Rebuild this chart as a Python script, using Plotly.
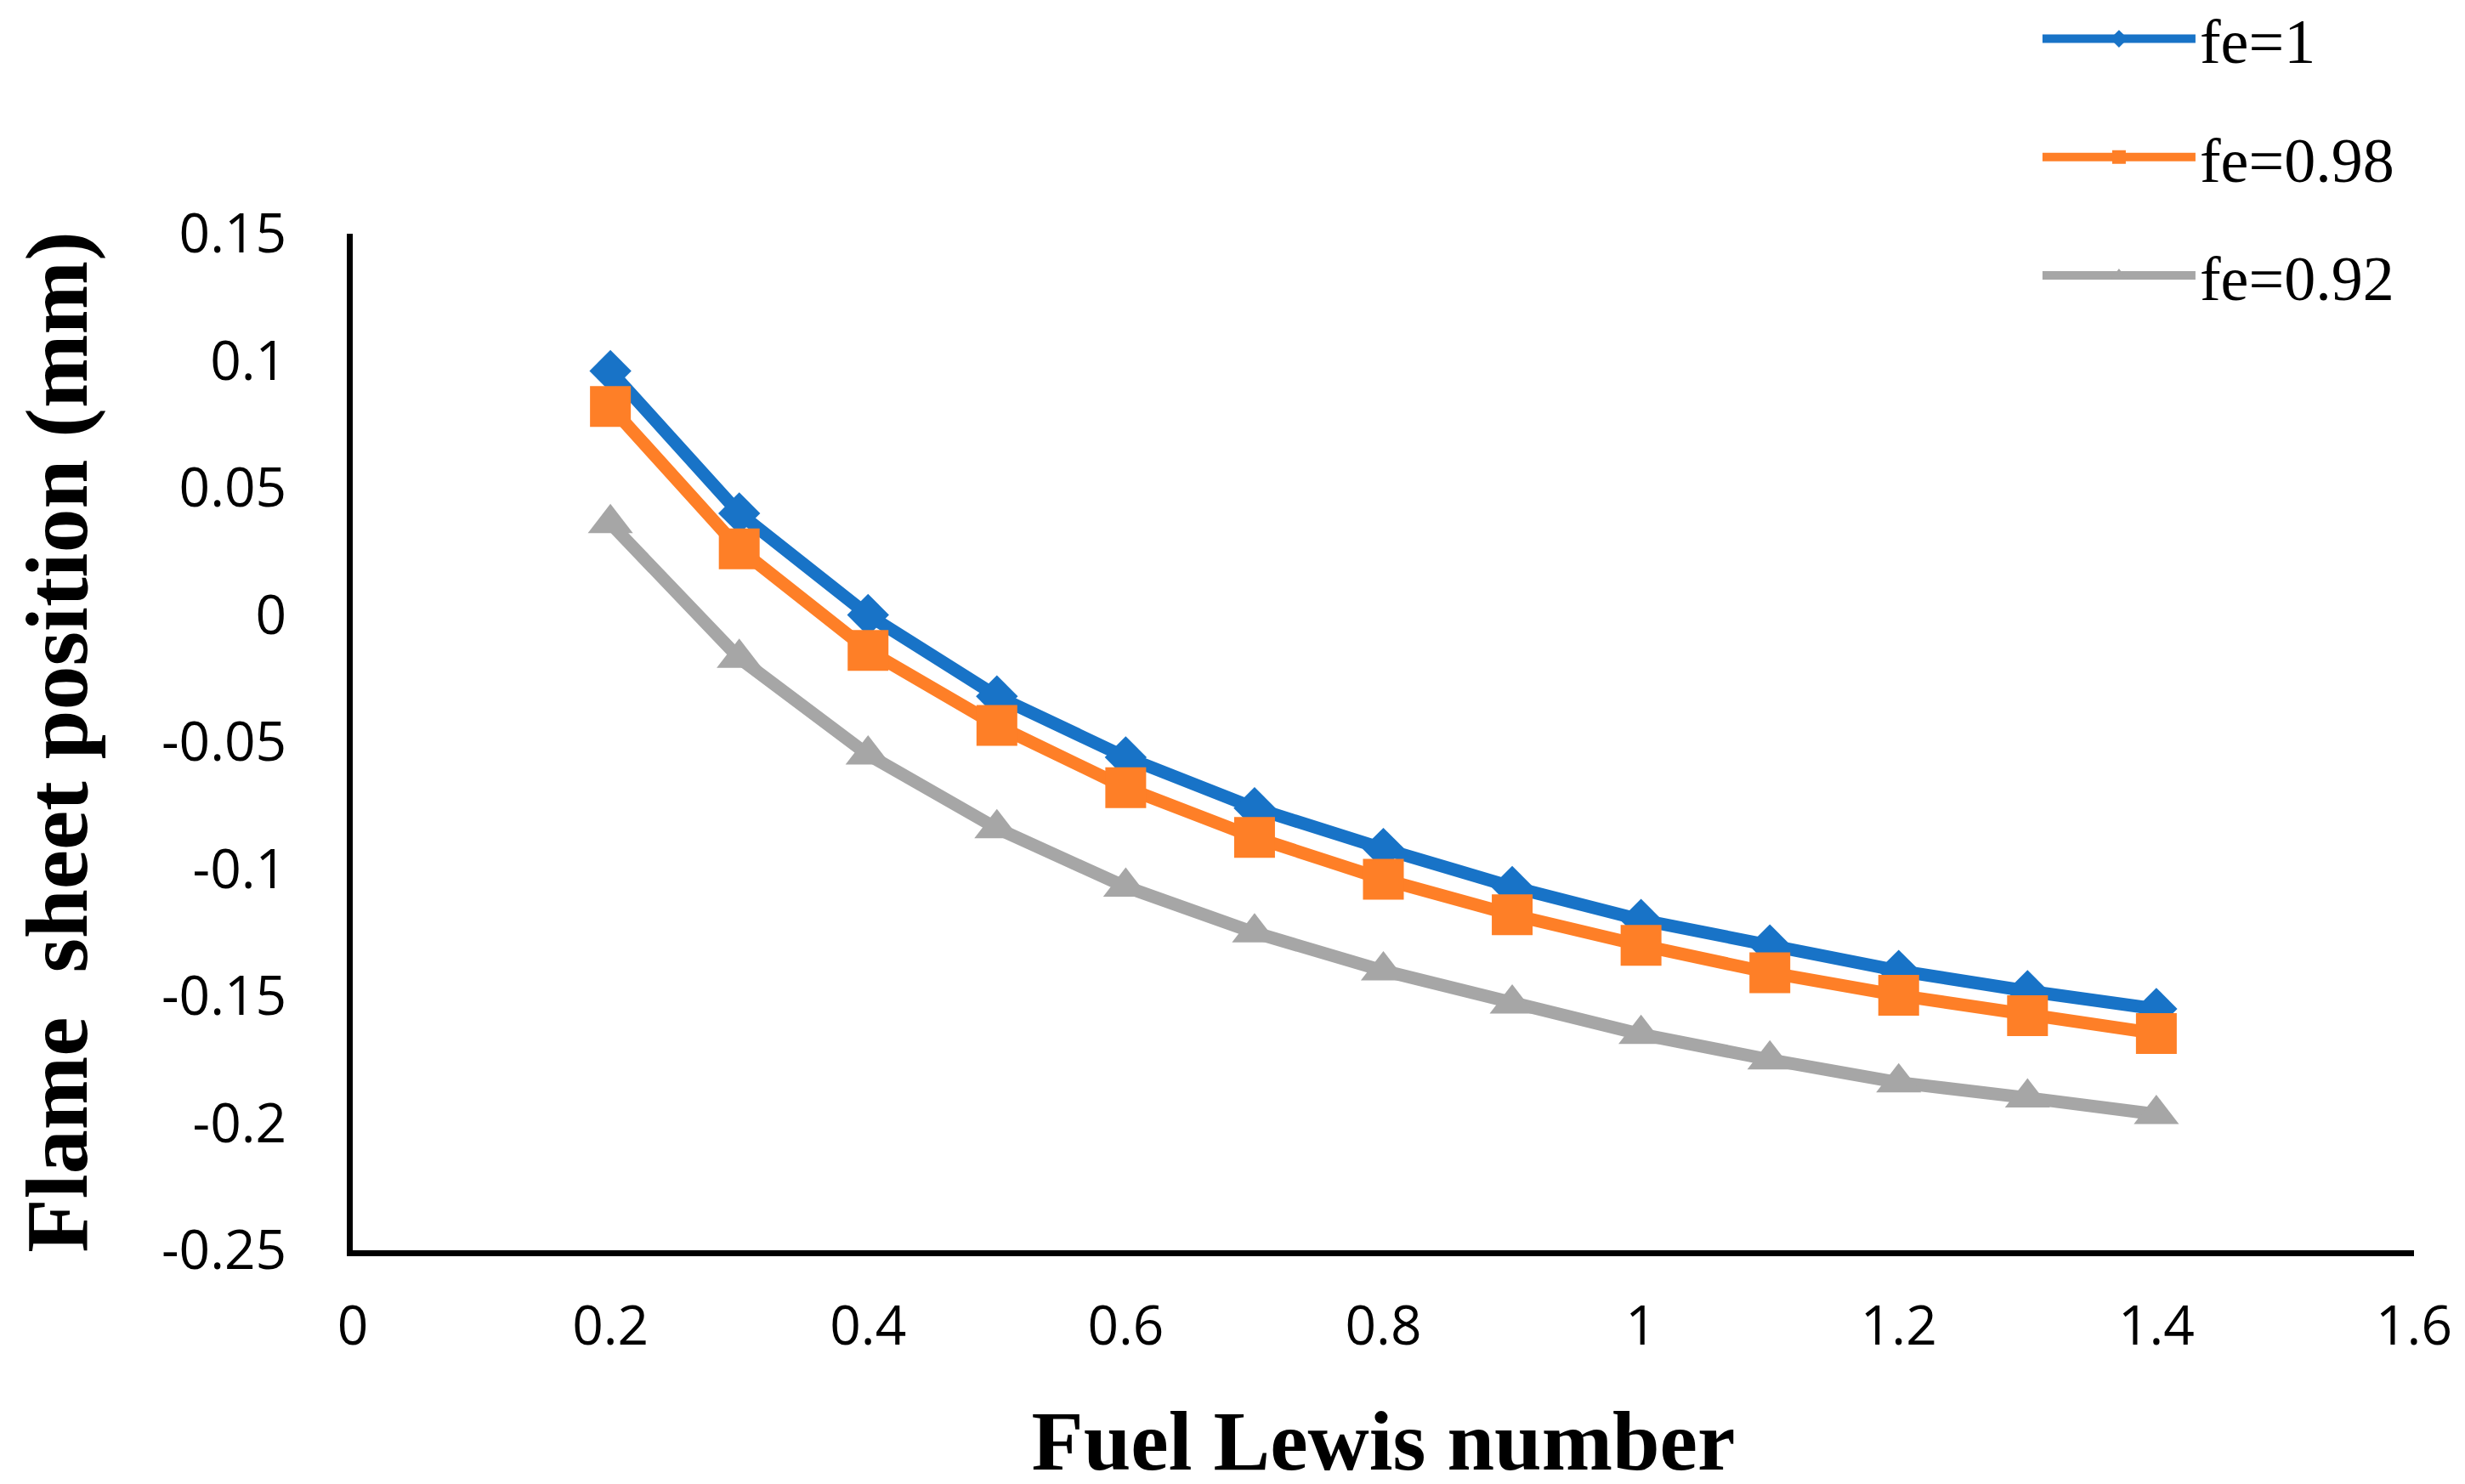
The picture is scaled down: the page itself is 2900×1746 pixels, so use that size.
import plotly.graph_objects as go

lewis = [0.2, 0.3, 0.4, 0.5, 0.6, 0.7, 0.8, 0.9, 1.0, 1.1, 1.2, 1.3, 1.4]
fe_1 = [0.096, 0.040, 0.000, -0.032, -0.056, -0.076, -0.092, -0.107, -0.120, -0.130, -0.140, -0.148, -0.155]
fe_098 = [0.082, 0.026, -0.014, -0.0435, -0.068, -0.0875, -0.104, -0.118, -0.130, -0.1408, -0.1497, -0.1577, -0.1647]
fe_092 = [0.036, -0.017, -0.055, -0.084, -0.107, -0.125, -0.140, -0.153, -0.165, -0.175, -0.184, -0.190, -0.1965]
series_names = ["fe=1", "fe=0.98", "fe=0.92"]

x_ticks = [0, 0.2, 0.4, 0.6, 0.8, 1, 1.2, 1.4, 1.6]
x_tick_text = ["0", "0.2", "0.4", "0.6", "0.8", "1", "1.2", "1.4", "1.6"]
y_ticks = [-0.25, -0.2, -0.15, -0.1, -0.05, 0, 0.05, 0.1, 0.15]
y_tick_text = ["-0.25", "-0.2", "-0.15", "-0.1", "-0.05", "0", "0.05", "0.1", "0.15"]

colors = ["#1873C7", "#FE7F27", "#A6A6A6"]
symbols = ["diamond", "square", "triangle-up"]
sizes = [38, 48, 46]

fig = go.Figure()
for name, ys, c, s, sz in zip(series_names, [fe_1, fe_098, fe_092], colors, symbols, sizes):
    fig.add_trace(go.Scatter(
        x=lewis, y=ys, name=name, mode="lines+markers", legendgroup=name,
        line=dict(color=c, width=15),
        marker=dict(color=c, symbol=s, size=sz),
    ))

fig.update_layout(
    width=2900, height=1746,
    paper_bgcolor="white", plot_bgcolor="white",
    margin=dict(l=407, r=68, t=267, b=283, autoexpand=False),
    showlegend=True,
    legend=dict(
        x=0.8177, y=1.2375, xanchor="left", yanchor="top",
        font=dict(family="Liberation Serif", size=74, color="black"),
        tracegroupgap=40, itemwidth=180, bgcolor="rgba(0,0,0,0)",
    ),
    xaxis=dict(
        range=[0, 1.6], tickvals=x_ticks, ticktext=x_tick_text, automargin=False,
        showgrid=False, zeroline=False, showline=True, linecolor="black", linewidth=7,
        ticks="", ticklabelstandoff=27,
        tickfont=dict(family="Open Sans", size=64, color="black"),
        title=dict(text="Fuel Lewis number", standoff=62,
                   font=dict(family="Liberation Serif", size=100, color="black", weight="bold")),
    ),
    yaxis=dict(
        range=[-0.25, 0.15], tickvals=y_ticks, ticktext=y_tick_text, automargin=False,
        showgrid=False, zeroline=False, showline=True, linecolor="black", linewidth=7,
        ticks="", ticklabelstandoff=58,
        tickfont=dict(family="Open Sans", size=64, color="black"),
        title=dict(text="Flame\u00a0 sheet position (mm)", standoff=55,
                   font=dict(family="Liberation Serif", size=104, color="black", weight="bold")),
    ),
)

fig.write_html("out.html")
